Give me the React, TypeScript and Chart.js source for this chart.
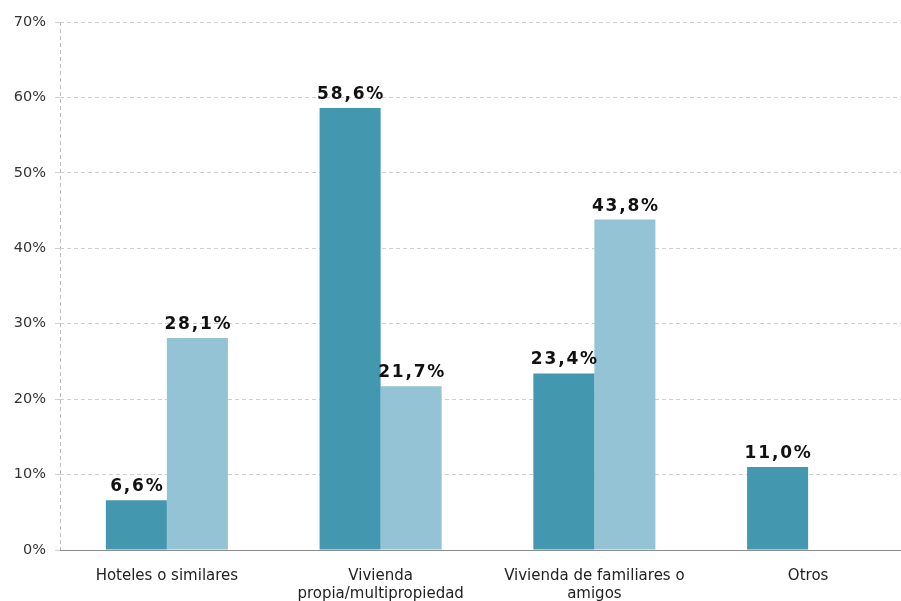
import React, { useEffect, useRef } from "react";
import { Chart, registerables } from "chart.js";

Chart.register(...registerables);

const categories: (string | string[])[] = [
  "Hoteles o similares",
  ["Vivienda", "propia/multipropiedad"],
  ["Vivienda de familiares o", "amigos"],
  "Otros",
];
const seriesA: (number | null)[] = [6.6, 58.6, 23.4, 11.0];
const seriesB: (number | null)[] = [28.1, 21.7, 43.8, null];
const seriesNames = ["Serie 1", "Serie 2"];
const yTicks = [0, 10, 20, 30, 40, 50, 60, 70];

const FONT = "'DejaVu Sans', Verdana, sans-serif";

const valueLabels = {
  id: "valueLabels",
  afterDatasetsDraw(chart: any) {
    const ctx = chart.ctx;
    ctx.save();
    ctx.font = `bold 17px ${FONT}`;
    ctx.fillStyle = "#111";
    ctx.textAlign = "center";
    ctx.textBaseline = "alphabetic";
    try { (ctx as any).letterSpacing = "1.8px"; } catch (e) {}
    chart.data.datasets.forEach((ds: any, di: number) => {
      const meta = chart.getDatasetMeta(di);
      meta.data.forEach((el: any, i: number) => {
        const v = ds.data[i];
        if (v === null || v === undefined) return;
        const txt = v.toFixed(1).replace(".", ",") + "%";
        ctx.fillText(txt, el.x + 1, el.y - 9);
      });
    });
    ctx.restore();
  },
};

export default function App() {
  const ref = useRef<HTMLCanvasElement | null>(null);
  useEffect(() => {
    if (!ref.current) return;
    const chart = new Chart(ref.current, {
      type: "bar",
      data: {
        labels: categories as any,
        datasets: [
          {
            label: seriesNames[0],
            data: seriesA,
            backgroundColor: "#4398B0",
            borderWidth: 0,
          },
          {
            label: seriesNames[1],
            data: seriesB,
            backgroundColor: "#93C3D5",
            borderWidth: 0,
          },
        ],
      },
      options: {
        responsive: false,
        animation: false,
        layout: { padding: { top: 22, right: 0, left: 0, bottom: 0 } },
        plugins: {
          legend: { display: false },
          tooltip: { enabled: false },
        },
        datasets: {
          bar: { categoryPercentage: 0.571, barPercentage: 1 },
        },
        scales: {
          x: {
            grid: {
              offset: true,
              drawTicks: false,
              color: (c: any) => (c.index === 0 ? "#bdbdbd" : "rgba(0,0,0,0)"),
            },
            border: { display: true, color: "#8c8c8c", width: 1, dash: [4, 3] },
            ticks: {
              color: "#222",
              padding: 17,
              font: { family: FONT, size: 15, lineHeight: 1.2 },
              maxRotation: 0,
              autoSkip: false,
            },
          },
          y: {
            min: 0,
            max: 70,
            afterFit: (s: any) => {
              s.width = 60;
            },
            afterBuildTicks: (s: any) => {
              s.ticks = yTicks.map((v) => ({ value: v }));
            },
            grid: {
              color: "#cfcfcf",
              tickLength: 5,
              drawTicks: true,
            },
            border: { display: false, dash: [4, 3] },
            ticks: {
              color: "#333",
              padding: 9,
              font: { family: FONT, size: 14.5 },
              callback: (v: any) => `${v}%`,
            },
          },
        },
      },
      plugins: [valueLabels],
    });
    return () => chart.destroy();
  }, []);
  return (
    <div
      style={{
        position: "fixed",
        left: 0,
        top: 0,
        width: 901,
        height: 601,
        overflow: "hidden",
        background: "#fff",
      }}
    >
      <canvas ref={ref} width={915} height={620} style={{ display: "block" }} />
    </div>
  );
}
